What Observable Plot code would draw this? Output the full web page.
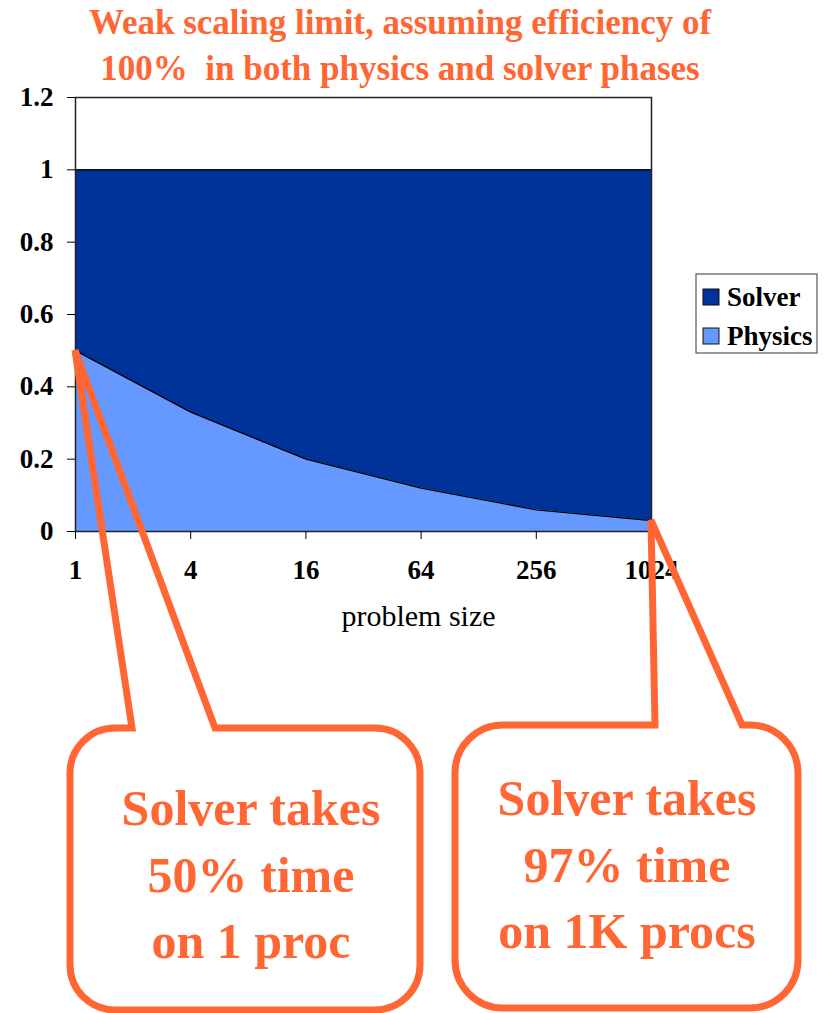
<!DOCTYPE html>
<html><head><meta charset="utf-8">
<script src="https://cdn.jsdelivr.net/npm/d3@7"></script>
<script src="https://cdn.jsdelivr.net/npm/@observablehq/plot@0.6"></script>
<style>body{margin:0;background:#fff}</style>
</head><body><div id="chart"></div>
<script>
const sizes = [1, 4, 16, 64, 256, 1024];
const physics = [0.5, 0.33, 0.2, 0.12, 0.06, 0.03];
const solver = [0.5, 0.67, 0.8, 0.88, 0.94, 0.97];
const seriesNames = ["Solver", "Physics"];
const seriesColors = ["#003399", "#6699FF"];
const yTicks = [0, 0.2, 0.4, 0.6, 0.8, 1, 1.2];
const xLabel = "problem size";
const titleLines = ["Weak scaling limit, assuming efficiency of", "100%  in both physics and solver phases"];
const callouts = [
  {size: 1, value: 0.5, lines: ["Solver takes", "50% time", "on 1 proc"]},
  {size: 1024, value: 0.03, lines: ["Solver takes", "97% time", "on 1K procs"]}
];

const rows = [];
sizes.forEach((s, i) => {
  rows.push({size: s, series: "Physics", value: physics[i]});
  rows.push({size: s, series: "Solver", value: solver[i]});
});
const stackOrder = ["Physics", "Solver"];
const orange = "#FF6633";
const serif = "'Liberation Serif', 'Times New Roman', serif";

function txt(g, x, y, t, size, weight, fill, anchor) {
  return g.append("text").attr("x", x).attr("y", y)
    .style("font-family", serif).style("font-size", size + "px")
    .style("font-weight", weight).style("fill", fill)
    .style("text-anchor", anchor).style("white-space", "pre").text(t);
}

function annotations(index, scales, values, dims) {
  const g = d3.create("svg:g");
  // title
  const ty = [34, 80];
  titleLines.forEach((t, i) => txt(g, 400, ty[i], t, 35, "bold", orange, "middle"));
  // legend
  g.append("rect").attr("x", 696).attr("y", 274).attr("width", 121).attr("height", 79)
    .attr("fill", "white").attr("stroke", "#555").attr("stroke-width", 1.2);
  seriesNames.forEach((n, i) => {
    const y = 289 + i * 39;
    g.append("rect").attr("x", 703).attr("y", y).attr("width", 16).attr("height", 16)
      .attr("fill", seriesColors[i]).attr("stroke", "#111").attr("stroke-width", 1);
    txt(g, 727, y + 17, n, 27, "bold", "#000", "start");
  });
  // callouts
  const boxes = [
    {x0: 70, x1: 420, y0: 728, y1: 1010, r: 45, b0: 132, b1: 215, cx: 251, base: [825, 892, 958]},
    {x0: 455, x1: 798, y0: 725, y1: 1008, r: 48, b0: 655, b1: 742, cx: 627, base: [815, 882, 948]}
  ];
  callouts.forEach((c, i) => {
    const b = boxes[i];
    const tx = scales.x(c.size), tyy = scales.y(c.value);
    const p = `M${b.x0 + b.r},${b.y0} L${b.b0},${b.y0} L${tx},${tyy} L${b.b1},${b.y0} L${b.x1 - b.r},${b.y0}
      A${b.r},${b.r} 0 0 1 ${b.x1},${b.y0 + b.r} L${b.x1},${b.y1 - b.r}
      A${b.r},${b.r} 0 0 1 ${b.x1 - b.r},${b.y1} L${b.x0 + b.r},${b.y1}
      A${b.r},${b.r} 0 0 1 ${b.x0},${b.y1 - b.r} L${b.x0},${b.y0 + b.r}
      A${b.r},${b.r} 0 0 1 ${b.x0 + b.r},${b.y0} Z`;
    g.append("path").attr("d", p).attr("fill", "none").attr("stroke", orange)
      .attr("stroke-width", 7).attr("stroke-linejoin", "miter");
    c.lines.forEach((t, j) => txt(g, b.cx, b.base[j], t, 50, "bold", orange, "middle"));
  });
  return g.node();
}

const chart = Plot.plot({
  width: 827,
  height: 1013,
  marginLeft: 75,
  marginRight: 176,
  marginTop: 97,
  marginBottom: 482,
  style: {fontFamily: serif, background: "white", color: "#000"},
  x: {type: "log", base: 4, domain: [1, 1024]},
  y: {domain: [0, 1.2]},
  color: {domain: seriesNames, range: seriesColors},
  marks: [
    Plot.areaY(rows, {x: "size", y: "value", fill: "series", z: "series", order: stackOrder, fillOpacity: 1}),
    Plot.line(rows, Plot.stackY2({x: "size", y: "value", z: "series", order: stackOrder, stroke: "#000", strokeWidth: 1.3})),
    Plot.frame({stroke: "#222", strokeWidth: 1.5}),
    Plot.axisY({ticks: yTicks, tickFormat: d => String(d), tickSize: 8, tickPadding: 14, fontSize: 27, fontWeight: "bold", label: null, stroke: "#000"}),
    Plot.axisX({ticks: sizes, tickFormat: d => String(d), tickSize: 8, tickPadding: 20, fontSize: 27, fontWeight: "bold", label: null, stroke: "#000"}),
    Plot.text([xLabel], {text: d => d, frameAnchor: "bottom", dx: 55, dy: 94, fontSize: 30, fontWeight: "normal", fill: "#000"}),
    annotations
  ]
});
document.getElementById("chart").append(chart);
</script>
</body></html>
